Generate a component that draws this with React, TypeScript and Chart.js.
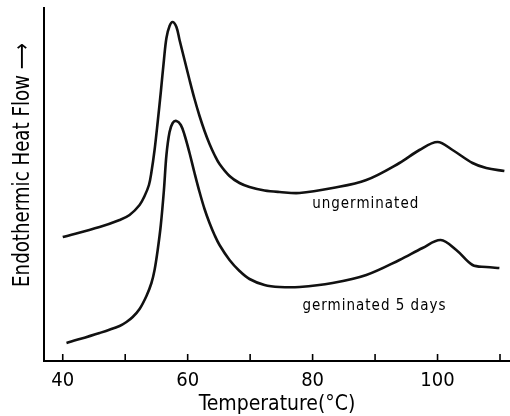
import React, { useEffect, useRef } from "react";
import { Chart, registerables } from "chart.js";

Chart.register(...registerables);

// Temperature (°C) and endothermic heat flow (arbitrary units)
const ungermTemp = [40, 45.9, 49.1, 50.7, 52.3, 53.1, 53.8, 54.2, 54.7, 55.2, 55.7, 56.2, 56.6, 57.1, 57.6, 58.2, 58.7, 59.5, 60.3, 61.1, 61.9, 62.7, 63.5, 64.3, 65.1, 66.7, 68.3, 69.9, 72.3, 74.7, 77.9, 83.2, 88.6, 93.9, 97.1, 100, 102.4, 105.6, 107.8, 110.7];
const ungermFlow = [12.4, 13.4, 14.1, 14.6, 15.6, 16.5, 17.6, 18.9, 21.1, 23.9, 26.9, 30.1, 32.3, 33.5, 33.9, 33.4, 32.1, 30.1, 28.1, 26.2, 24.5, 23.0, 21.7, 20.6, 19.7, 18.5, 17.8, 17.4, 17.05, 16.9, 16.8, 17.3, 18.1, 19.8, 21.1, 21.9, 21.1, 19.8, 19.3, 19.0];

const germTemp = [40.6, 45.9, 49.1, 50.2, 51.2, 52.3, 53.4, 54.2, 54.7, 55.2, 55.7, 56.2, 56.6, 57.1, 57.6, 58.2, 58.9, 59.5, 60.3, 61.1, 61.9, 62.7, 63.5, 64.3, 65.1, 66.7, 68.3, 69.9, 72.3, 74.7, 77.9, 83.2, 88.6, 93.9, 97.6, 100.5, 103.0, 105.6, 107.8, 109.9];
const germFlow = [1.8, 2.8, 3.5, 3.9, 4.4, 5.2, 6.5, 7.8, 9.1, 11.1, 13.6, 17.1, 20.6, 22.9, 23.8, 24.0, 23.6, 22.6, 20.8, 18.8, 16.9, 15.2, 13.8, 12.6, 11.6, 10.1, 9.0, 8.2, 7.6, 7.4, 7.4, 7.8, 8.6, 10.1, 11.3, 12.1, 11.1, 9.6, 9.4, 9.3];

const xTicks = [40, 50, 60, 70, 80, 90, 100, 110];
const xTickLabels = [40, 60, 80, 100];

const curveLabels = ["ungerminated", "germinated 5 days"];
const curveLabelTemp = [88.5, 89.9];
const curveLabelFlow = [15.3, 5.1];

const xTitle = "Temperature(°C)";
const yTitle = "Endothermic Heat Flow ⟶";

const FAMILY = '"Liberation Sans Narrow", "DejaVu Sans Condensed", "Liberation Sans", sans-serif';

const annotate = {
  id: "annotate",
  afterDraw(chart: any) {
    const { ctx, chartArea } = chart;
    const x = chart.scales.x;
    const y = chart.scales.y;
    ctx.save();
    // inward tick marks on the temperature axis
    ctx.strokeStyle = "#000";
    ctx.lineWidth = 1.6;
    for (const t of xTicks) {
      const px = x.getPixelForValue(t);
      ctx.beginPath();
      ctx.moveTo(px, chartArea.bottom);
      ctx.lineTo(px, chartArea.bottom - 7);
      ctx.stroke();
    }
    // curve labels
    ctx.fillStyle = "#000";
    ctx.font = `15px ${FAMILY}`;
    (ctx as any).letterSpacing = "1px";
    ctx.textAlign = "center";
    ctx.textBaseline = "alphabetic";
    curveLabels.forEach((lbl, i) => {
      ctx.fillText(lbl, x.getPixelForValue(curveLabelTemp[i]), y.getPixelForValue(curveLabelFlow[i]));
    });
    (ctx as any).letterSpacing = "0px";
    // y axis title (narrow lettering as in the original)
    ctx.translate(23, 165);
    ctx.rotate(-Math.PI / 2);
    ctx.scale(0.88, 1);
    ctx.font = `23px ${FAMILY}`;
    ctx.textBaseline = "middle";
    ctx.textAlign = "center";
    ctx.fillText(yTitle, 0, 0);
    ctx.restore();
  },
};

export default function App() {
  const ref = useRef<HTMLCanvasElement | null>(null);

  useEffect(() => {
    document.body.style.margin = "0";
    const canvas = ref.current;
    if (!canvas) return;
    const chart = new Chart(canvas, {
      type: "line",
      data: {
        datasets: [
          {
            label: "ungerminated",
            data: ungermTemp.map((t, i) => ({ x: t, y: ungermFlow[i] })),
            borderColor: "#111",
            borderWidth: 2.6,
            pointRadius: 0,
            tension: 0.35,
            fill: false,
          },
          {
            label: "germinated 5 days",
            data: germTemp.map((t, i) => ({ x: t, y: germFlow[i] })),
            borderColor: "#111",
            borderWidth: 2.6,
            pointRadius: 0,
            tension: 0.35,
            fill: false,
          },
        ],
      },
      options: {
        animation: false,
        responsive: false,
        devicePixelRatio: 1,
        layout: { padding: { top: 8, right: 0, left: 0, bottom: 0 } },
        plugins: { legend: { display: false }, tooltip: { enabled: false } },
        scales: {
          x: {
            type: "linear",
            min: 37,
            max: 111.6,
            afterBuildTicks: (s: any) => {
              s.ticks = xTicks.map((v) => ({ value: v }));
            },
            afterFit: (s: any) => {
              s.height = 55;
            },
            ticks: {
              autoSkip: false,
              maxRotation: 0,
              padding: 8,
              color: "#000",
              font: { family: FAMILY, size: 20 },
              callback: (v: any) => (xTickLabels.includes(Number(v)) ? String(v) : ""),
            },
            grid: { display: false, drawTicks: false },
            border: { display: true, color: "#000", width: 2 },
            title: {
              display: true,
              text: xTitle,
              color: "#000",
              font: { family: FAMILY, size: 21, lineHeight: 1 },
              padding: { top: 0, bottom: 1 },
            },
          },
          y: {
            type: "linear",
            min: 0,
            max: 35.3,
            afterFit: (s: any) => {
              s.width = 44;
            },
            ticks: { display: false },
            grid: { display: false, drawTicks: false },
            border: { display: true, color: "#000", width: 2 },
          },
        },
      },
      plugins: [annotate],
    } as any);
    return () => chart.destroy();
  }, []);

  return (
    <div style={{ width: 510, height: 416, background: "#fff" }}>
      <canvas ref={ref} width={510} height={416} style={{ display: "block" }} />
    </div>
  );
}
